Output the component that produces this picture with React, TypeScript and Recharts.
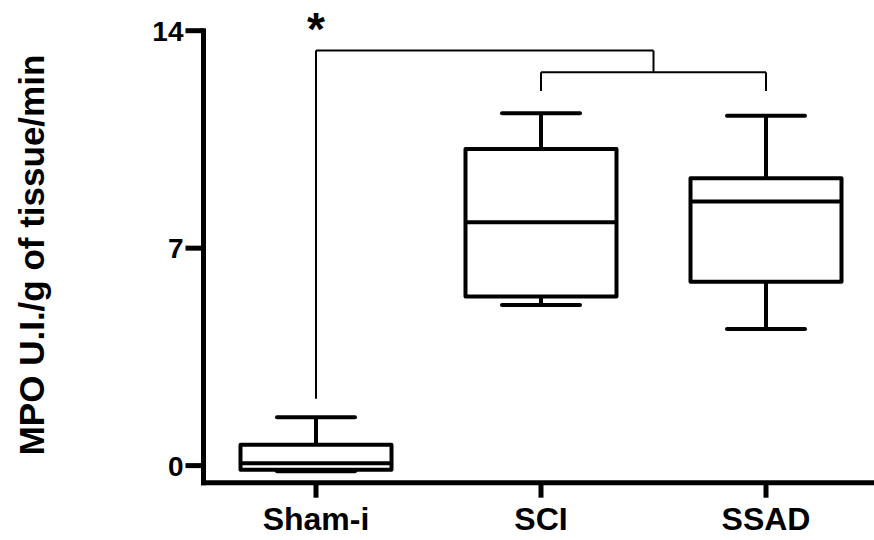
import React from 'react';
import { ComposedChart, Bar, XAxis, YAxis, ReferenceLine, ReferenceDot } from 'recharts';

const categories = ['Sham-i', 'SCI', 'SSAD'];
const mins = [-0.18, 5.17, 4.4];
const q1s = [-0.13, 5.44, 5.92];
const medians = [0.08, 7.83, 8.5];
const q3s = [0.67, 10.19, 9.25];
const maxs = [1.56, 11.34, 11.26];
const yTicks = [0, 7, 14];

// significance brackets: [x1, y1, x2, y2]
const bracketSegments = [
  [0, 2.15, 0, 13.36],
  [0, 13.36, 1.5, 13.36],
  [1.5, 13.36, 1.5, 12.66],
  [1, 12.66, 2, 12.66],
  [1, 12.66, 1, 12.06],
  [2, 12.66, 2, 12.06],
];

const FONT = '"Liberation Sans", Arial, Helvetica, sans-serif';

const data = categories.map((name, i) => ({
  pos: i,
  name,
  min: mins[i],
  q1: q1s[i],
  median: medians[i],
  q3: q3s[i],
  max: maxs[i],
}));

// draws whole box plot inside the [min, max] range bar
const BoxShape = (props: any) => {
  const { x, y, width, height, payload } = props;
  const top = Math.min(y, y + height);
  const h = Math.abs(height);
  const span = payload.max - payload.min;
  const py = (v: number) => top + (h * (payload.max - v)) / span;
  const cx = x + width / 2;
  const capHalf = 39;
  return (
    <g stroke="#000" strokeWidth={4} fill="none" strokeLinejoin="round">
      <line x1={cx} x2={cx} y1={py(payload.max)} y2={py(payload.q3)} />
      <line x1={cx} x2={cx} y1={py(payload.q1)} y2={py(payload.min)} />
      <line x1={cx - capHalf} x2={cx + capHalf} y1={py(payload.max)} y2={py(payload.max)} strokeLinecap="round" />
      <line x1={cx - capHalf} x2={cx + capHalf} y1={py(payload.min)} y2={py(payload.min)} strokeLinecap="round" />
      <rect x={x} y={py(payload.q3)} width={width} height={py(payload.q1) - py(payload.q3)} fill="#fff" />
      <line x1={x} x2={x + width} y1={py(payload.median)} y2={py(payload.median)} />
    </g>
  );
};

const XTick = (props: any) => {
  const { x, y, payload } = props;
  return (
    <text x={x} y={y} dy={22.7} textAnchor="middle" fontSize={32} fontWeight="bold" fontFamily={FONT} fill="#000">
      {categories[payload.value]}
    </text>
  );
};

const YTick = (props: any) => {
  const { x, y, payload } = props;
  return (
    <text x={x} y={y} dy={10} textAnchor="end" fontSize={28} fontWeight="bold" fontFamily={FONT} fill="#000">
      {payload.value}
    </text>
  );
};

export default function App() {
  return (
    <div style={{ position: 'absolute', left: 0, top: 0, width: 874, height: 540, background: '#fff' }}>
      <ComposedChart
        width={874}
        height={540}
        data={data}
        margin={{ top: 30.7, right: 0, bottom: 0, left: 133.5 }}
        style={{ fontFamily: FONT }}
      >
        <XAxis
          dataKey="pos"
          type="number"
          domain={[-0.5, 2.48]}
          allowDataOverflow
          ticks={[0, 1, 2]}
          height={57.3}
          stroke="#000"
          strokeWidth={5}
          axisLine={{ stroke: '#000', strokeWidth: 5, strokeLinecap: 'square' }}
          tickLine={{ stroke: '#000', strokeWidth: 5 }}
          tickSize={15}
          tickMargin={9.6}
          tick={<XTick />}
        />
        <YAxis
          type="number"
          domain={[-0.55, 14]}
          allowDataOverflow
          ticks={yTicks}
          width={70}
          stroke="#000"
          strokeWidth={5}
          axisLine={{ stroke: '#000', strokeWidth: 5, strokeLinecap: 'square' }}
          tickLine={{ stroke: '#000', strokeWidth: 5 }}
          tickSize={18}
          tickMargin={2}
          tick={<YTick />}
          label={{
            content: () => (
              <text
                transform="translate(44,255) rotate(-90)"
                textAnchor="middle"
                fontSize={35}
                fontWeight="bold"
                fontFamily={FONT}
                fill="#000"
              >
                MPO U.I./g of tissue/min
              </text>
            ),
          }}
        />
        <Bar
          dataKey={(d: any) => [d.min, d.max]}
          barSize={151}
          shape={<BoxShape />}
          isAnimationActive={false}
        />
        {bracketSegments.map((s, i) => (
          <ReferenceLine
            key={i}
            segment={[{ x: s[0], y: s[1] }, { x: s[2], y: s[3] }]}
            stroke="#000"
            strokeWidth={2}
            ifOverflow="visible"
          />
        ))}
        <ReferenceDot
          x={0}
          y={14.05}
          r={0}
          ifOverflow="visible"
          label={{ value: '*', position: 'center', fontSize: 46, fontWeight: 'bold', fill: '#000', fontFamily: FONT }}
        />
      </ComposedChart>
    </div>
  );
}
